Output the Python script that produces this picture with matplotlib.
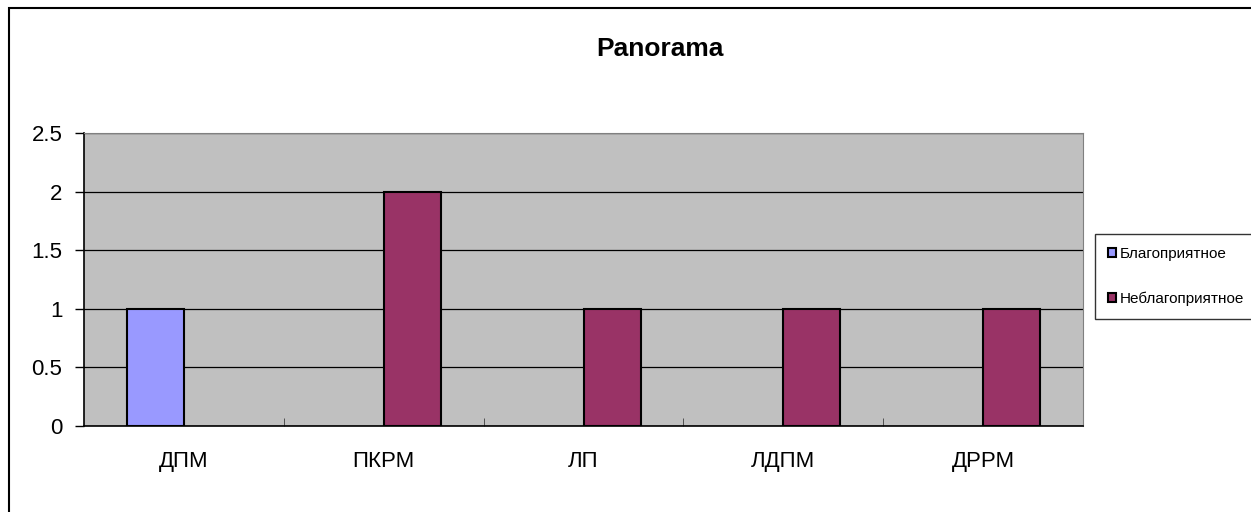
import numpy as np
import matplotlib.pyplot as plt
from matplotlib.patches import Rectangle

# =====================
# DATA
# =====================

categories = ["ДПМ", "ПКРМ", "ЛП", "ЛДПМ", "ДРРМ"]
series_names = ["Благоприятное", "Неблагоприятное"]
favorable = [1, 0, 0, 0, 0]
unfavorable = [0, 2, 1, 1, 1]
yticks = [0, 0.5, 1, 1.5, 2, 2.5]
ytick_labels = ["0", "0.5", "1", "1.5", "2", "2.5"]

colors = ["#9999FF", "#993366"]

# =====================
# PLOT
# =====================

plt.rcParams["font.family"] = ["Liberation Sans", "DejaVu Sans"]

W, H = 1251, 512
fig = plt.figure(figsize=(W / 100, H / 100), dpi=100)

# outer chart frame (only left and top visible)
fig.add_artist(Rectangle((9 / W, -0.1), 1.2, 1 - 8 / H + 0.1,
                         transform=fig.transFigure, fill=False,
                         edgecolor="black", linewidth=1.5))

left, right, top, bottom = 84, 1083, 133, 426
ax = fig.add_axes([left / W, 1 - bottom / H, (right - left) / W, (bottom - top) / H])
ax.set_facecolor("#C0C0C0")

x = np.arange(len(categories))
width = 0.2857

# no outline on empty bars
lw1 = [1.5 if v else 0 for v in favorable]
lw2 = [1.5 if v else 0 for v in unfavorable]

ax.bar(x - width / 2, favorable, width, color=colors[0],
       edgecolor="black", linewidth=lw1, zorder=3)
ax.bar(x + width / 2, unfavorable, width, color=colors[1],
       edgecolor="black", linewidth=lw2, zorder=3)

ax.set_xlim(-0.5, len(categories) - 0.5)
ax.set_ylim(0, 2.5)

ax.set_yticks(yticks)
ax.set_yticklabels(ytick_labels, fontsize=16)
ax.yaxis.grid(True, color="black", linewidth=0.9)
ax.set_axisbelow(True)

ax.set_xticks(x)
ax.set_xticklabels(categories, fontsize=16)
ax.tick_params(axis="x", length=0, pad=18)
ax.set_xticks(np.arange(0.5, len(categories) - 0.5, 1), minor=True)
ax.tick_params(axis="x", which="minor", direction="in", length=6, color="#404040")
ax.tick_params(axis="y", length=6.5, width=1, pad=9)

for s in ["top", "right"]:
    ax.spines[s].set_color("#808080")
for s in ["left", "bottom"]:
    ax.spines[s].set_color("black")
    ax.spines[s].set_linewidth(1.2)

fig.text(660 / W, 1 - 49 / H, "Panorama", ha="center", va="center",
         fontsize=19, fontweight="bold")

leg_handles = [Rectangle((0, 0), 1, 1, facecolor=c, edgecolor="black", linewidth=1.5)
               for c in colors]
leg = fig.legend(handles=leg_handles, labels=series_names, loc="upper left",
                 bbox_to_anchor=(1095 / W, 1 - 234 / H),
                 fontsize=11, frameon=True, fancybox=False,
                 handlelength=0.55, handleheight=0.55, handletextpad=0.2,
                 labelspacing=2.0, borderpad=0.85, borderaxespad=0)
leg.get_frame().set_edgecolor("black")
leg.get_frame().set_linewidth(1)

fig.savefig("out.png", dpi=100)
